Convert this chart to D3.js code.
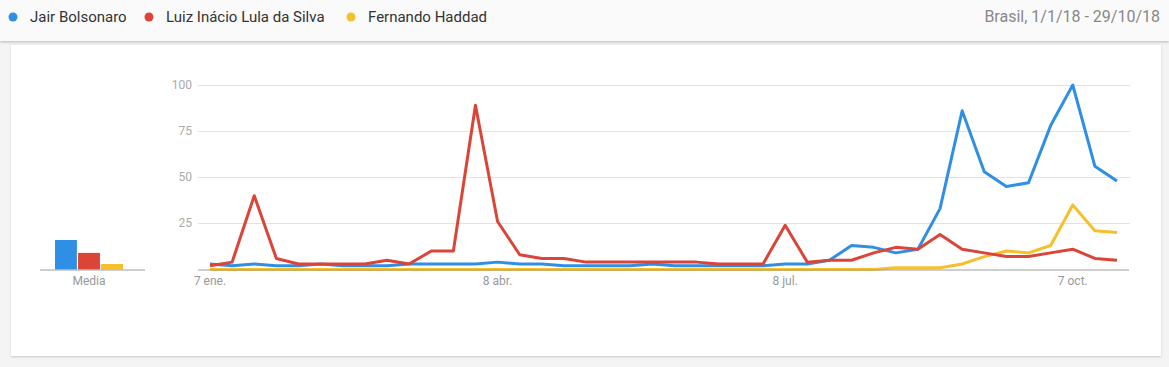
<!DOCTYPE html>
<html>
<head>
<meta charset="utf-8">
<script src="https://cdnjs.cloudflare.com/ajax/libs/d3/7.8.5/d3.min.js"></script>
<style>
  body { margin: 0; background: #f4f4f4; font-family: Roboto, "Noto Sans", sans-serif; }
  #header { position: absolute; left: 0; top: 0; width: 1169px; height: 41px; background: #fafafa;
            box-shadow: 0 1px 3px rgba(0,0,0,0.25); }
  #card { position: absolute; left: 11px; top: 45px; width: 1150px; height: 311px; background: #fff;
          box-shadow: 0 1px 2px rgba(0,0,0,0.18); }
  svg { position: absolute; left: 0; top: 0; }
</style>
</head>
<body>
<div id="card"></div>
<div id="header"></div>
<script>
// series names + colours
var names = ["Jair Bolsonaro", "Luiz Inácio Lula da Silva", "Fernando Haddad"];
var colors = ["#2f8fe5", "#db4437", "#f6c02c"];

// weekly values, 7 ene. 2018 .. 21 oct. 2018
var bolsonaro = [3,2,3,2,2,3,2,2,2,3,3,3,3,4,3,3,2,2,2,2,3,2,2,2,2,2,3,3,5,13,12,9,11,33,86,53,45,47,78,100,56,48];
var lula      = [2,4,40,6,3,3,3,3,5,3,10,10,89,26,8,6,6,4,4,4,4,4,4,3,3,3,24,4,5,5,9,12,11,19,11,9,7,7,9,11,6,5];
var haddad    = [0,0,0,0,0,0,0,0,0,0,0,0,0,0,0,0,0,0,0,0,0,0,0,0,0,0,0,0,0,0,0,1,1,1,3,7,10,9,13,35,21,20];
var averages  = [16, 9, 3];

var tickWeeks  = [0, 13, 26, 39];
var tickLabels = ["7 ene.", "8 abr.", "8 jul.", "7 oct."];
var yTicks = [25, 50, 75, 100];

var W = 1169, H = 367;
var svg = d3.select("body").append("svg").attr("width", W).attr("height", H);

// header legend
var legX = [13, 149, 351];
var leg = svg.append("g");
names.forEach(function(n, i) {
  leg.append("circle").attr("cx", legX[i]).attr("cy", 17).attr("r", 4.5).attr("fill", colors[i]);
  leg.append("text").attr("x", legX[i] + 17).attr("y", 22)
    .attr("font-size", 15).attr("fill", "#333").text(n);
});
svg.append("text").attr("x", 1160).attr("y", 22).attr("text-anchor", "end")
  .attr("font-size", 16).attr("fill", "#888").text("Brasil, 1/1/18 - 29/10/18");

// scales
var x = d3.scaleLinear().domain([0, bolsonaro.length - 1]).range([210, 1117]);
var y = d3.scaleLinear().domain([0, 100]).range([269.5, 85]);

// grid
var grid = svg.append("g");
grid.selectAll("line").data(yTicks).enter().append("line")
  .attr("x1", 198).attr("x2", 1130)
  .attr("y1", function(d) { return Math.round(y(d)) + 0.5; })
  .attr("y2", function(d) { return Math.round(y(d)) + 0.5; })
  .attr("stroke", "#e2e2e2").attr("stroke-width", 1);
grid.selectAll("text").data(yTicks).enter().append("text")
  .attr("x", 192).attr("y", function(d) { return y(d) + 4; })
  .attr("text-anchor", "end").attr("font-size", 12).attr("fill", "#aaa")
  .text(function(d) { return d; });

// lines (haddad first, bolsonaro & lula on top)
var line = d3.line()
  .x(function(d, i) { return x(i); })
  .y(function(d) { return y(d); });

var series = [haddad, bolsonaro, lula];
var seriesColors = [colors[2], colors[0], colors[1]];
svg.append("g").selectAll("path").data(series).enter().append("path")
  .attr("d", line)
  .attr("fill", "none")
  .attr("stroke", function(d, i) { return seriesColors[i]; })
  .attr("stroke-width", 3)
  .attr("stroke-linejoin", "round");

// baseline + x labels
svg.append("line").attr("x1", 198).attr("x2", 1129).attr("y1", 270).attr("y2", 270)
  .attr("stroke", "#9e9e9e").attr("stroke-width", 1);
svg.append("g").selectAll("text").data(tickWeeks).enter().append("text")
  .attr("x", function(d) { return x(d); }).attr("y", 285)
  .attr("text-anchor", "middle").attr("font-size", 12).attr("fill", "#999")
  .text(function(d, i) { return tickLabels[i]; });

// averages ("Media")
var xb = d3.scaleBand().domain(names).range([55, 123]).paddingInner(0.05);
svg.append("g").selectAll("rect").data(averages).enter().append("rect")
  .attr("x", function(d, i) { return xb(names[i]); })
  .attr("y", function(d) { return y(d); })
  .attr("width", xb.bandwidth())
  .attr("height", function(d) { return y(0) - y(d); })
  .attr("fill", function(d, i) { return colors[i]; });
svg.append("line").attr("x1", 40).attr("x2", 145).attr("y1", 270).attr("y2", 270)
  .attr("stroke", "#9e9e9e").attr("stroke-width", 1);
svg.append("text").attr("x", 89).attr("y", 285).attr("text-anchor", "middle")
  .attr("font-size", 12).attr("fill", "#999").text("Media");
</script>
</body>
</html>
